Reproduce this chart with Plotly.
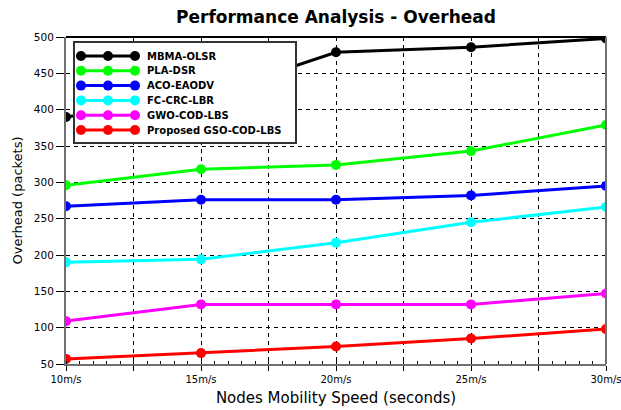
import plotly.graph_objects as go

# Node mobility speeds (m/s) and overhead in packets per routing scheme
speeds = [10, 15, 20, 25, 30]
tick_labels = ["10m/s", "15m/s", "20m/s", "25m/s", "30m/s"]

mbma_olsr = [390, 417, 479, 486, 498]
pla_dsr = [296, 318, 324, 343, 379]
aco_eaodv = [267, 276, 276, 282, 295]
fc_crc_lbr = [190, 194, 217, 245, 266]
gwo_cod_lbs = [109, 132, 132, 132, 147]
proposed_gso = [57, 65, 74, 85, 98]

series_names = ["MBMA-OLSR", "PLA-DSR", "ACO-EAODV", "FC-CRC-LBR",
                "GWO-COD-LBS", "Proposed GSO-COD-LBS"]
series_values = [mbma_olsr, pla_dsr, aco_eaodv, fc_crc_lbr, gwo_cod_lbs, proposed_gso]
series_colors = ["#000000", "#00ff00", "#0000ff", "#00ffff", "#ff00ff", "#ff0000"]

FONT = "DejaVu Sans, Verdana, sans-serif"

fig = go.Figure()
for name, vals, color in zip(series_names, series_values, series_colors):
    fig.add_trace(go.Scatter(
        x=speeds, y=vals, name=name, mode="lines+markers",
        line=dict(color=color, width=3),
        marker=dict(color=color, size=10, symbol="circle"),
        cliponaxis=True, showlegend=False,
    ))

# Legend drawn as a small inset panel: a line with three dots per scheme
LEG_W, LEG_H = 220, 99
row_top, row_step = 13, 14.8
sample_x = [6, 33, 60]
for i, (name, color) in enumerate(zip(series_names, series_colors)):
    row_y = row_top + row_step * i
    fig.add_trace(go.Scatter(
        x=sample_x, y=[row_y] * len(sample_x), xaxis="x2", yaxis="y2",
        mode="lines+markers", line=dict(color=color, width=3),
        marker=dict(color=color, size=10), showlegend=False, hoverinfo="skip",
    ))
    fig.add_annotation(
        x=70, y=row_y, xref="x2", yref="y2", text="<b>" + name + "</b>",
        showarrow=False, xanchor="left", yanchor="middle",
        font=dict(family=FONT, size=10, color="black"),
    )

# gridlines every 2.5 m/s, labels only on whole 5 m/s steps
grid_vals = [10 + 2.5 * i for i in range(9)]
grid_text = [tick_labels[i // 2] if i % 2 == 0 else "" for i in range(9)]

L, R, T, B = 66, 15, 37, 46
PW, PH = 621 - L - R, 410 - T - B

fig.update_layout(
    width=621, height=410,
    margin=dict(l=L, r=R, t=T, b=B, autoexpand=False),
    paper_bgcolor="white", plot_bgcolor="white",
    font=dict(family=FONT, color="black"),
    title=dict(text="<b>Performance Analysis - Overhead</b>",
               x=(L + 621 - R) / 2 / 621, xanchor="center",
               y=1 - 17 / 410, yanchor="middle",
               font=dict(family=FONT, size=17, color="black")),
    xaxis=dict(
        range=[10, 30], tickvals=grid_vals, ticktext=grid_text,
        showgrid=True, gridcolor="black", gridwidth=1, griddash="4px,4px",
        showline=True, linecolor="#707070", linewidth=2,
        ticks="outside", ticklen=5, tickcolor="black",
        tickfont=dict(size=10), ticklabeloverflow="allow",
        minor=dict(dtick=0.5, ticks="inside", ticklen=3, tickcolor="black", showgrid=False),
        zeroline=False, automargin=False,
        title=dict(text="Nodes Mobility Speed (seconds)", font=dict(size=15), standoff=8),
    ),
    yaxis=dict(
        range=[50, 500], dtick=50,
        showgrid=True, gridcolor="black", gridwidth=1, griddash="4px,4px",
        showline=True, linecolor="#707070", linewidth=2,
        ticks="outside", ticklen=8, tickcolor="black",
        tickfont=dict(size=10.5), ticklabeloverflow="allow",
        zeroline=False, automargin=False,
        title=dict(text="Overhead (packets)", font=dict(size=13), standoff=8),
    ),
    xaxis2=dict(
        domain=[9 / PW, (9 + LEG_W) / PW], anchor="y2", range=[0, LEG_W],
        showgrid=False, zeroline=False, showticklabels=False, ticks="",
        showline=True, mirror=True, linecolor="#333333", linewidth=1.5,
        fixedrange=True,
    ),
    yaxis2=dict(
        domain=[1 - (6 + LEG_H) / PH, 1 - 6 / PH], anchor="x2", range=[LEG_H, 0],
        showgrid=False, zeroline=False, showticklabels=False, ticks="",
        showline=True, mirror=True, linecolor="#333333", linewidth=1.5,
        fixedrange=True,
    ),
    showlegend=False,
)

# frame: dark top edge and grey right edge of the plotting area
fig.add_shape(type="line", xref="paper", yref="paper", x0=0, x1=1, y0=1, y1=1,
              line=dict(color="black", width=2))
fig.add_shape(type="line", xref="paper", yref="paper", x0=1, x1=1, y0=0, y1=1,
              line=dict(color="#707070", width=2))

fig.write_html("out.html")
